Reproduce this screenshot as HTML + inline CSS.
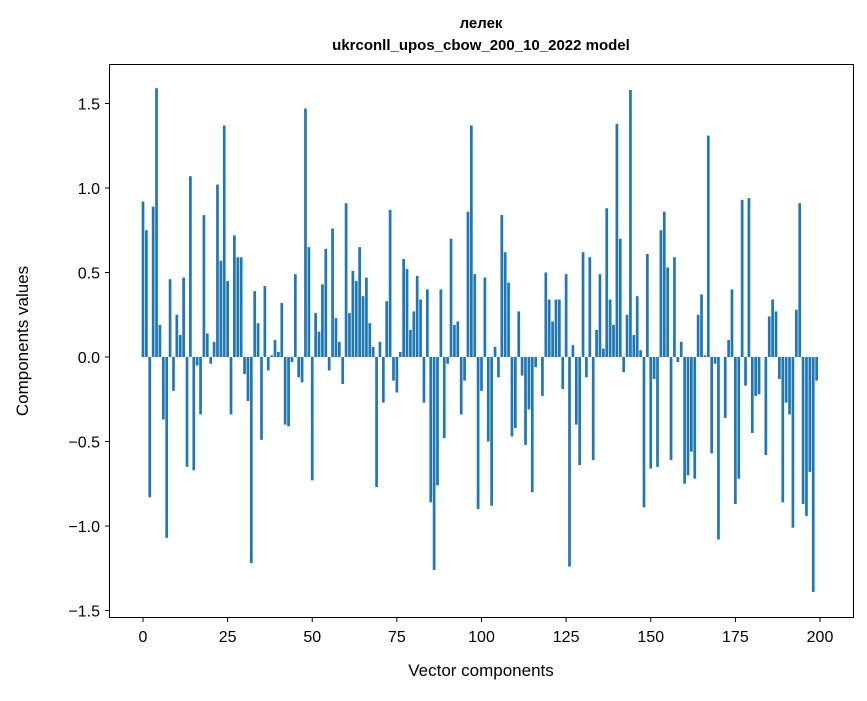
<!DOCTYPE html>
<html><head><meta charset="utf-8"><style>
body{margin:0;background:#fff;font-family:"Liberation Sans","DejaVu Sans",sans-serif}
svg text{font-family:"Liberation Sans","DejaVu Sans",sans-serif}
</style></head><body>
<svg id="c" width="867" height="696">
<rect width="867" height="696" fill="#fff"/>
<text x="481" y="28" text-anchor="middle" font-size="15" font-weight="bold">лелек</text>
<text x="481" y="50" text-anchor="middle" font-size="15" font-weight="bold">ukrconll_upos_cbow_200_10_2022 model</text>
<g id="bars"></g>
<rect x="109.5" y="64.5" width="744" height="553" fill="none" stroke="#000" stroke-width="1"/>
<g id="axes"></g>
<text x="481" y="676" text-anchor="middle" font-size="17">Vector components</text>
<text transform="translate(28,341) rotate(-90)" text-anchor="middle" font-size="17">Components values</text>
</svg>
<script>
const values=[0.92,0.75,-0.83,0.89,1.59,0.19,-0.37,-1.07,0.46,-0.2,0.25,0.13,0.47,-0.65,1.07,-0.67,-0.05,-0.34,0.84,0.14,-0.04,0.09,1.02,0.57,1.37,0.45,-0.34,0.72,0.59,0.59,-0.1,-0.26,-1.22,0.39,0.2,-0.49,0.42,-0.08,0.01,0.1,0.03,0.32,-0.4,-0.41,-0.03,0.49,-0.12,-0.15,1.47,0.65,-0.73,0.26,0.15,0.43,0.64,-0.08,0.76,0.23,0.09,-0.16,0.91,0.26,0.51,0.45,0.65,0.36,0.47,0.2,0.06,-0.77,0.09,-0.27,0.33,0.87,-0.14,-0.21,0.03,0.58,0.52,0.16,0.27,0.48,0.34,-0.27,0.4,-0.86,-1.26,-0.76,0.4,-0.48,-0.04,0.7,0.19,0.21,-0.34,-0.14,0.86,1.37,0.49,-0.9,-0.2,0.47,-0.5,-0.88,0.06,-0.12,0.84,0.62,0.44,-0.47,-0.42,0.27,-0.11,-0.52,-0.31,-0.8,-0.06,0.0,-0.23,0.5,0.34,0.21,0.34,0.34,-0.19,0.49,-1.24,0.07,-0.4,-0.64,0.62,-0.12,0.59,-0.61,0.16,0.49,0.05,0.88,0.34,0.19,1.38,0.7,-0.09,0.25,1.58,0.13,0.36,0.04,-0.89,0.61,-0.66,-0.13,-0.65,0.75,0.86,0.53,-0.61,0.59,-0.03,0.09,-0.75,-0.7,-0.56,-0.72,0.25,0.37,0.01,1.31,-0.57,-0.04,-1.08,0.0,-0.36,0.1,0.4,-0.87,-0.72,0.93,-0.17,0.94,-0.45,-0.23,-0.22,0.0,-0.58,0.24,0.34,0.27,-0.13,-0.86,-0.27,-0.34,-1.01,0.28,0.91,-0.87,-0.94,-0.68,-1.39,-0.14];
const xTicks=[0,25,50,75,100,125,150,175,200];
const yTicks=[-1.5,-1.0,-0.5,0.0,0.5,1.0,1.5];
const NS="http://www.w3.org/2000/svg";
function sx(v){return 143+v*(820-143)/200;}
function sy(v){return 357-v*169;}
const bars=document.getElementById('bars');
values.forEach((v,i)=>{
 const r=document.createElementNS(NS,'rect');
 const w=0.8*(820-143)/200;
 r.setAttribute('x',sx(i)-w/2);
 r.setAttribute('width',w);
 r.setAttribute('y',Math.min(sy(v),sy(0)));
 r.setAttribute('height',Math.abs(sy(v)-sy(0)));
 r.setAttribute('fill','#1f77b4');
 
 
 bars.appendChild(r);
});
const ax=document.getElementById('axes');
xTicks.forEach(t=>{
 const l=document.createElementNS(NS,'line');
 l.setAttribute('x1',sx(t));l.setAttribute('x2',sx(t));l.setAttribute('y1',617.5);l.setAttribute('y2',622);l.setAttribute('stroke','#000');
 
 
 ax.appendChild(l);
 const tx=document.createElementNS(NS,'text');
 tx.setAttribute('x',sx(t));tx.setAttribute('y',642);tx.setAttribute('text-anchor','middle');tx.setAttribute('font-size','16');
 tx.textContent=t;
 
 
 ax.appendChild(tx);
});
yTicks.forEach(t=>{
 const l=document.createElementNS(NS,'line');
 l.setAttribute('x1',105);l.setAttribute('x2',109.5);l.setAttribute('y1',sy(t));l.setAttribute('y2',sy(t));l.setAttribute('stroke','#000');
 
 
 ax.appendChild(l);
 const tx=document.createElementNS(NS,'text');
 tx.setAttribute('x',100);tx.setAttribute('y',sy(t)+6);tx.setAttribute('text-anchor','end');tx.setAttribute('font-size','16');
 tx.textContent=(t<0?'\u2212':'')+Math.abs(t).toFixed(1);
 
 
 ax.appendChild(tx);
});
</script>
</body></html>
